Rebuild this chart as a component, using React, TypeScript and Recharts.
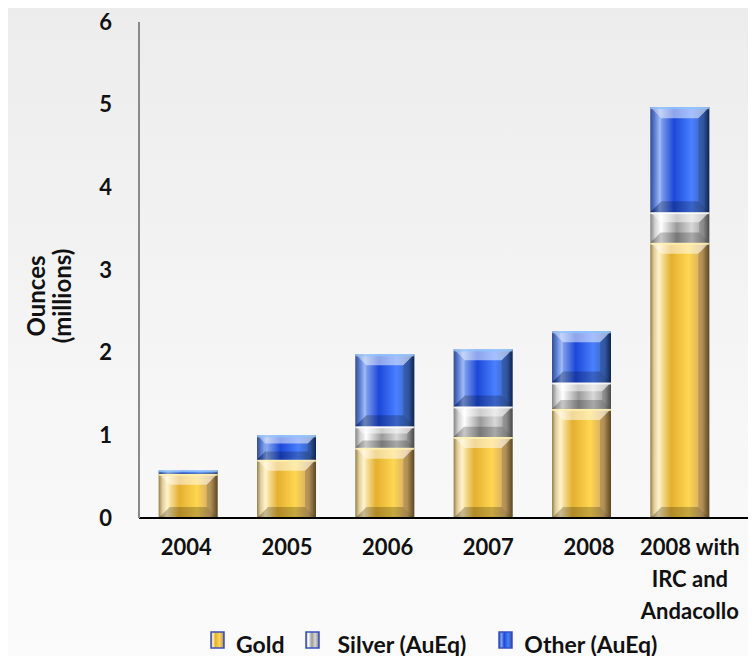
import React from "react";
import { BarChart, Bar, XAxis, YAxis, Legend } from "recharts";

const categories = ["2004", "2005", "2006", "2007", "2008", "2008 with IRC and Andacollo"];
const tickLines = [["2004"], ["2005"], ["2006"], ["2007"], ["2008"], ["2008 with", "IRC and", "Andacollo"]];
const gold = [0.535, 0.705, 0.85, 0.98, 1.32, 3.33];
const silver = [0, 0, 0.26, 0.37, 0.32, 0.37];
const other = [0.04, 0.295, 0.87, 0.69, 0.62, 1.27];
const yTicks = [0, 1, 2, 3, 4, 5, 6];

const data = categories.map((name, i) => ({
  name,
  gold: gold[i],
  silver: silver[i],
  other: other[i],
}));

const FONT = "Lato, 'Open Sans', sans-serif";

const palette: Record<string, { stops: [number, string][]; top: string; label: string }> = {
  gold: {
    label: "Gold",
    top: "#fff2b0",
    stops: [
      [0, "#7a6428"],
      [0.06, "#d8c080"],
      [0.14, "#fff0c0"],
      [0.35, "#e4b030"],
      [0.65, "#ffd650"],
      [0.88, "#d0a868"],
      [1, "#6a5428"],
    ],
  },
  silver: {
    label: "Silver (AuEq)",
    top: "#ffffff",
    stops: [
      [0, "#6a6a6a"],
      [0.08, "#c8c8c8"],
      [0.18, "#ffffff"],
      [0.45, "#9a9a9a"],
      [0.7, "#d8d8d8"],
      [0.9, "#a0a0a0"],
      [1, "#555555"],
    ],
  },
  other: {
    label: "Other (AuEq)",
    top: "#8fc4ff",
    stops: [
      [0, "#0a2470"],
      [0.08, "#3a66d0"],
      [0.16, "#8aaaf0"],
      [0.4, "#1c48d8"],
      [0.7, "#4a80ff"],
      [0.9, "#3a64b8"],
      [1, "#102a60"],
    ],
  },
};

function makeShape(kind: string) {
  return (props: any) => {
    const { x, y, width: w, height: h } = props;
    if (!h || h <= 0.5) return null;
    const b = Math.min(11, h / 3, w / 4);
    return (
      <g>
        <rect x={x} y={y} width={w} height={h} fill={`url(#grad-${kind})`} />
        <polygon
          points={`${x},${y} ${x + w},${y} ${x + w - b},${y + b} ${x + b},${y + b}`}
          fill="#ffffff"
          fillOpacity={0.5}
        />
        <polygon
          points={`${x},${y + h} ${x + w},${y + h} ${x + w - b},${y + h - b} ${x + b},${y + h - b}`}
          fill="#000000"
          fillOpacity={0.22}
        />
        <polygon
          points={`${x},${y} ${x + b},${y + b} ${x + b},${y + h - b} ${x},${y + h}`}
          fill="#ffffff"
          fillOpacity={0.18}
        />
        <polygon
          points={`${x + w},${y} ${x + w - b},${y + b} ${x + w - b},${y + h - b} ${x + w},${y + h}`}
          fill="#000000"
          fillOpacity={0.15}
        />
        <rect x={x} y={y} width={w} height={Math.min(2, h)} fill={palette[kind].top} fillOpacity={0.8} />
      </g>
    );
  };
}

function XTick(props: any) {
  const { x, y, payload, index } = props;
  const lines = tickLines[index] || [payload.value];
  // labels in the original sit a little right of their bars
  const shift = -2 + index * 2.4;
  return (
    <text x={x + shift} y={y + 29} textAnchor="middle" fontFamily={FONT} fontWeight={700} fontSize={22} fill="#111">
      {lines.map((l: string, i: number) => (
        <tspan key={i} x={x + shift} dy={i === 0 ? 0 : 32}>
          {l}
        </tspan>
      ))}
    </text>
  );
}

function YTitle(props: any) {
  const vb = props.viewBox || { x: 0, y: 0, width: 0, height: 0 };
  const cy = vb.y + vb.height / 2 + 26;
  const cx = vb.x + 45;
  return (
    <text
      transform={`translate(${cx},${cy}) rotate(-90)`}
      textAnchor="middle"
      fontFamily={FONT}
      fontWeight={700}
      fontSize={24}
      fill="#111"
    >
      <tspan x={0} dy={0}>Ounces</tspan>
      <tspan x={0} dy={26}>(millions)</tspan>
    </text>
  );
}

function LegendContent() {
  const keys = ["gold", "silver", "other"];
  return (
    <div
      style={{
        display: "flex",
        alignItems: "flex-start",
        height: 34,
        paddingLeft: 210,
        fontFamily: FONT,
        fontWeight: 700,
        fontSize: 23,
        color: "#111",
      }}
    >
      {keys.map((k) => (
        <div key={k} style={{ display: "flex", alignItems: "flex-start", marginRight: k === "silver" ? 32 : 20 }}>
          <svg width={16} height={19} style={{ marginTop: 1, marginRight: k === "silver" ? 17 : 10 }}>
            <defs>
              <linearGradient id={`leg-${k}`} x1="0" y1="0" x2="1" y2="0">
                {palette[k].stops.map(([o, c], j) => (
                  <stop key={j} offset={o} stopColor={c} />
                ))}
              </linearGradient>
            </defs>
            <rect x={1} y={1} width={13} height={16} fill={`url(#leg-${k})`} stroke="#3a4fc0" strokeWidth={1.5} />
          </svg>
          <span style={{ lineHeight: "26px", marginTop: 1 }}>{palette[k].label}</span>
        </div>
      ))}
    </div>
  );
}

export default function App() {
  return (
    <div
      style={{
        margin: -8,
        width: 756,
        height: 664,
        background: "linear-gradient(180deg, #ececec 0%, #f6f6f6 60%, #fbfbfb 100%)",
      }}
    >
      <BarChart width={756} height={664} data={data} margin={{ top: 22, right: 0, left: 0, bottom: 0 }} barCategoryGap="20%">
        <defs>
          {Object.keys(palette).map((k) => (
            <linearGradient key={k} id={`grad-${k}`} x1="0" y1="0" x2="1" y2="0">
              {palette[k].stops.map(([o, c], j) => (
                <stop key={j} offset={o} stopColor={c} />
              ))}
            </linearGradient>
          ))}
        </defs>
        <XAxis
          dataKey="name"
          interval={0}
          height={112}
          padding={{ left: 0, right: 27 }}
          tickLine={false}
          axisLine={{ stroke: "#000", strokeWidth: 2 }}
          tick={<XTick />}
        />
        <YAxis
          width={139}
          domain={[0, 6]}
          ticks={yTicks}
          tickLine={false}
          tickSize={0}
          tickMargin={27}
          axisLine={{ stroke: "#8a8a8a", strokeWidth: 2 }}
          tick={{ fill: "#111", fontFamily: FONT, fontWeight: 700, fontSize: 22 }}
          label={<YTitle />}
        />
        <Legend verticalAlign="bottom" height={34} content={<LegendContent />} />
        <Bar dataKey="gold" stackId="a" shape={makeShape("gold")} isAnimationActive={false} />
        <Bar dataKey="silver" stackId="a" shape={makeShape("silver")} isAnimationActive={false} />
        <Bar dataKey="other" stackId="a" shape={makeShape("other")} isAnimationActive={false} />
      </BarChart>
    </div>
  );
}
